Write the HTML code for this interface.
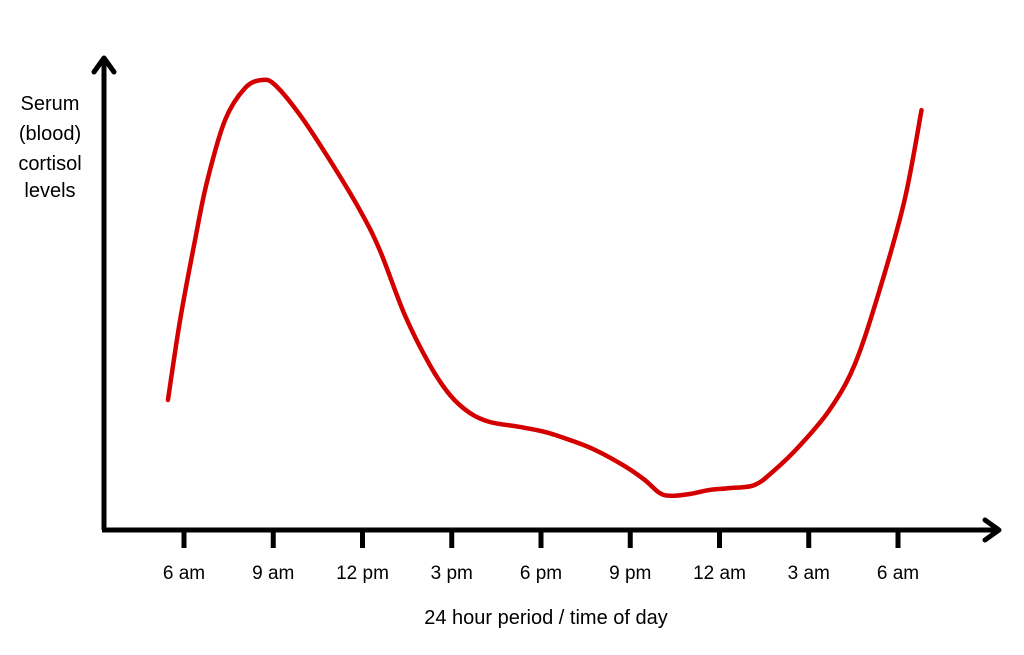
<!DOCTYPE html>
<html><head><meta charset="utf-8"><style>
html,body{margin:0;padding:0;background:#fff;}
svg{display:block;font-family:"Liberation Sans",sans-serif;}
</style></head><body>
<svg width="1024" height="655" viewBox="0 0 1024 655">
<g id="axes">
  <line x1="104" y1="530" x2="104" y2="58" stroke="#000" stroke-width="5"/>
  <polyline points="94,72 104,58 114,72" fill="none" stroke="#000" stroke-width="5" stroke-linecap="round" stroke-linejoin="round"/>
  <line x1="102" y1="530" x2="998" y2="530" stroke="#000" stroke-width="5"/>
  <polyline points="985,520 999,530 985,540" fill="none" stroke="#000" stroke-width="5" stroke-linecap="round" stroke-linejoin="round"/>
</g>
<g id="ticks"></g>
<text x="546" y="624" text-anchor="middle" font-size="20" fill="#000">24 hour period / time of day</text>
<g font-size="20" fill="#000" text-anchor="middle">
  <text x="50" y="110">Serum</text>
  <text x="50" y="140">(blood)</text>
  <text x="50" y="170">cortisol</text>
  <text x="50" y="197">levels</text>
</g>
<path id="curve" fill="none" stroke="#d40000" stroke-width="4.5" stroke-linecap="round" stroke-linejoin="round"/>
</svg>
<script>
const tickLabels = ["6 am","9 am","12 pm","3 pm","6 pm","9 pm","12 am","3 am","6 am"];
const tickHours = [0,3,6,9,12,15,18,21,24];
const hours = [-0.54,-0.13,0.37,0.77,1.38,2.05,2.62,3.06,3.9,4.9,5.91,6.58,7.42,8.26,8.94,9.61,10.28,11.29,12.13,12.97,13.81,14.81,15.49,15.99,16.39,17.0,17.67,18.34,19.18,19.85,20.69,21.7,22.54,23.38,24.22,24.79];
const levels = [28.9,46.7,64.4,77.3,91.1,98.2,100,98.9,92.2,82.2,71.1,62.2,47.8,36.7,30,26,24,22.9,21.8,20,17.8,14.2,11.1,8.2,7.6,8,8.9,9.3,10,13.3,18.7,26.7,36.7,53.3,73.3,93.3];
function xScale(h){return 184 + h*(89.25/3);}
function yScale(v){return 530 - v*4.5;}
const NS="http://www.w3.org/2000/svg";
const tg=document.getElementById('ticks');
tickHours.forEach((h,i)=>{
  const x=xScale(h);
  const l=document.createElementNS(NS,'line');
  l.setAttribute('x1',x);l.setAttribute('x2',x);l.setAttribute('y1',530);l.setAttribute('y2',548);
  l.setAttribute('stroke','#000');l.setAttribute('stroke-width','5');
  
  
  tg.appendChild(l);
  const t=document.createElementNS(NS,'text');
  t.setAttribute('x',x);t.setAttribute('y',579);t.setAttribute('text-anchor','middle');t.setAttribute('font-size','19');
  t.textContent=tickLabels[i];
  
  
  tg.appendChild(t);
});
const pts=hours.map((h,i)=>[xScale(h),yScale(levels[i])]);
let d=`M${pts[0][0]},${pts[0][1]}`;
for(let i=0;i<pts.length-1;i++){
  const p0=pts[Math.max(0,i-1)],p1=pts[i],p2=pts[i+1],p3=pts[Math.min(pts.length-1,i+2)];
  const c1=[p1[0]+(p2[0]-p0[0])/6,p1[1]+(p2[1]-p0[1])/6];
  const c2=[p2[0]-(p3[0]-p1[0])/6,p2[1]-(p3[1]-p1[1])/6];
  d+=` C${c1[0]},${c1[1]} ${c2[0]},${c2[1]} ${p2[0]},${p2[1]}`;
}
document.getElementById('curve').setAttribute('d',d);
</script>
</body></html>
